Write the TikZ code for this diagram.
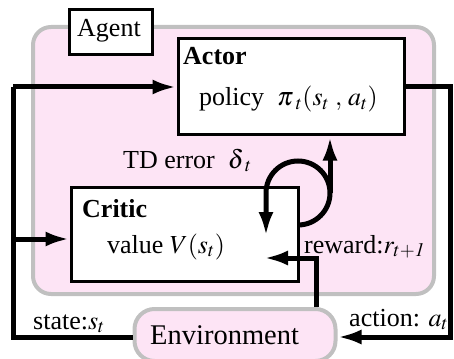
\documentclass[tikz,border=0pt]{standalone}
\usepackage{mathptmx}
\usepackage{fontspec}
\setmainfont{Liberation Serif}
\usetikzlibrary{arrows.meta,calc}
\definecolor{pinkfill}{HTML}{FDE4F5}
\definecolor{grayline}{HTML}{C0C0C0}
\begin{document}
\begin{tikzpicture}[x=1pt,y=-1pt,font=\fontsize{26}{30}\selectfont,
  flow/.style={line width=5pt,-{Latex[length=24pt,width=15pt]}},
  plain/.style={line width=5pt},
  blackbox/.style={draw,line width=3pt,fill=white,inner sep=0pt},
  pinkbox/.style={draw=grayline,line width=4pt,fill=pinkfill,rounded corners=18pt,inner sep=0pt},
  lbl/.style={anchor=base west,inner sep=0pt}]
\useasboundingbox (0,0) rectangle (454,358);
% agent region
\node[pinkbox,minimum width=401pt,minimum height=267pt] (agent) at (233.5,160.5) {};
\node[blackbox,minimum width=83pt,minimum height=45pt] (agentlbl) at (110.5,32.5) {};
\node[lbl] (agenttxt) at (77,37) {Agent};
% actor
\node[blackbox,minimum width=226pt,minimum height=96pt] (actor) at (291,87) {};
\node[lbl] (actortxt) at (183,65) {\textbf{Actor}};
\node[lbl] (policytxt) at (199,106) {policy\ \ $\pi_{\;t}(s_t\;,\,a_t)$};
% critic
\node[blackbox,minimum width=227pt,minimum height=94pt] (critic) at (184.5,234) {};
\node[lbl] (critictxt) at (82,217) {\textbf{Critic}};
\node[lbl] (valuetxt) at (107,253) {value $V(s_t)$};
% environment
\node[pinkbox,minimum width=201pt,minimum height=52pt,rounded corners=20pt] (env) at (235,335) {};
\node[lbl,font=\fontsize{28.5}{30}\selectfont] (envtxt) at (150,344) {Environment};
% labels
\node[lbl] (tdtxt) at (123,168) {TD error\ \ $\delta_{\;t}$};
\node[lbl] (rewardtxt) at (304,253) {reward:$r_{t+\mathit{1}}$};
\node[lbl] (actiontxt) at (349,326) {action: $a_t$};
\node[lbl] (statetxt) at (33,329) {state:$s_t$};
% coordinates
\coordinate (lx) at (13,337);
\coordinate (rx) at (450,337);
\coordinate (rewcorner) at (316,258);
\coordinate (loopstart) at (298,225);
\coordinate (loopright) at (330,193);
% state flow
\draw[plain] (env.west |- lx) -- (lx) -- (lx |- actor.west);
\draw[flow] (lx |- actor.west) -- (actor.west);
\draw[flow] (13,239) -- (critic.west |- 0,239);
% action flow
\draw[flow] (actor.east) -- (actor.east -| rx) -- (rx) -- (env.east |- rx);
% reward
\draw[flow] (env.north -| rewcorner) -- (rewcorner) -- (264,258);
% TD error loop
\draw[flow] (loopstart) arc[start angle=90,end angle=-180,radius=32] -- ++(0,43);
\draw[flow] (loopright) -- (loopright |- actor.south);
\end{tikzpicture}
\end{document}
